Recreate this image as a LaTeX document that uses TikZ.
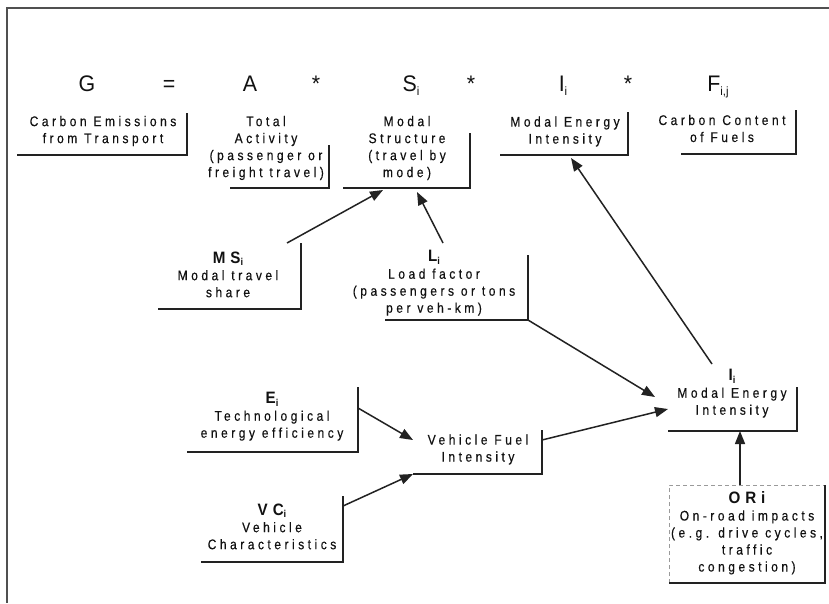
\documentclass[tikz,border=0pt]{standalone}
\usepackage{fontspec}
\setmainfont{Liberation Sans}
\newfontfamily\lblfont[LetterSpace=25,FakeBold=0.3,FakeStretch=0.86]{Liberation Sans}
\newfontfamily\lblbfont[LetterSpace=30,FakeStretch=0.92]{Liberation Sans Bold}
\newfontfamily\eqfont[FakeStretch=0.95]{Liberation Sans}
\usetikzlibrary{arrows.meta}
\definecolor{txt}{HTML}{111111}
\definecolor{lin}{HTML}{222222}
\definecolor{framecol}{HTML}{505050}
\definecolor{dashcol}{HTML}{9A9A9A}
\newcommand\bl[2]{{\lblbfont\fontsize{16.5}{18}\selectfont #1\raisebox{-2.5pt}{\fontsize{10}{10}\selectfont #2}}}
\newcommand\esub[1]{\raisebox{-4pt}{\fontsize{12}{12}\selectfont #1}}
\newcommand\lbox[5]{\node[boxn, minimum width=#4pt, minimum height=#5pt] (#1) at (#2,#3) {};\draw[lsh] (#1.north east) |- (#1.south west);}
\tikzset{
  lbl/.style={align=center, inner sep=0pt, text=txt, font=\lblfont\fontsize{14}{17}\selectfont},
  boxn/.style={inner sep=0pt, outer sep=0pt, anchor=south east},
  lsh/.style={draw=lin, line width=1.5pt},
  conn/.style={draw=lin, line width=1.5pt, -{Triangle[length=13pt,width=10pt]}},
  eq/.style={inner sep=0pt, anchor=base, text=txt, font=\eqfont\fontsize{22.5}{24}\selectfont},
  framel/.style={draw=framecol, line width=2pt},
}
\begin{document}
\begin{tikzpicture}[x=1pt,y=-1pt]
\useasboundingbox (0,0) rectangle (829,603);
\fill[white] (0,0) rectangle (829,603);
\draw[framel] (829,8) -- (7,8) -- (7,603);

% equation row
\node[eq] (g) at (87,91) {G};
\node[eq] (eqs) at (169,91) {=};
\node[eq] (a) at (250,91) {A};
\node[eq] (st1) at (316,91) {*};
\node[eq] (s) at (411,91) {S\esub{i}};
\node[eq] (st2) at (471,91) {*};
\node[eq] (i) at (563,91) {I\esub{i}};
\node[eq] (st3) at (628,91) {*};
\node[eq] (f) at (718,91) {F\esub{i,j}};

% top boxes
\node[lbl] (ce) at (103,131) {Carbon Emissions\\from Transport};
\lbox{ceb}{187}{155}{170}{42}
\node[lbl] (ta) at (266,148) {Total\\Activity\\(passenger or\\freight travel)};
\lbox{tab}{329}{188}{99}{43}
\node[lbl] (ms) at (407,148) {Modal\\Structure\\(travel by\\mode)};
\lbox{msb}{470}{188}{127}{55}
\node[lbl] (me) at (565,131.5) {Modal Energy\\Intensity};
\lbox{meb}{628}{155}{128}{43}
\node[lbl] (cc) at (722,128.5) {Carbon Content\\of Fuels};
\lbox{ccb}{796}{154}{115}{44}

% middle boxes
\node[lbl] (msi) at (228,274.5) {\bl{MS}{i}\\Modal travel\\share};
\lbox{msib}{301}{309}{143}{66}
\node[lbl] (li) at (434,283) {\bl{L}{i}\\Load factor\\(passengers or tons\\per veh-km)};
\lbox{lib}{528}{320}{143}{65}
\node[lbl] (ii) at (732,393.5) {\bl{I}{i}\\Modal Energy\\Intensity};
\lbox{iib}{797}{431}{129}{44}
\node[lbl] (ei) at (272,416.5) {\bl{E}{i}\\Technological\\energy efficiency};
\lbox{eib}{358}{452}{171}{65}
\node[lbl] (vf) at (478,449.5) {Vehicle Fuel\\Intensity};
\lbox{vfb}{542}{474}{129}{44}
\node[lbl] (vc) at (272,526.5) {\bl{VC}{i}\\Vehicle\\Characteristics};
\lbox{vcb}{343}{562}{142}{66}

% dashed box
\node[boxn, minimum width=156pt, minimum height=98pt] (orb) at (825,583) {};
\draw[dashcol, line width=1pt, dash pattern=on 4pt off 3pt] (orb.south west) rectangle (orb.north east);
\draw[lsh] (orb.north east) |- (orb.south west);
\node[lbl] (ori) at (747,533) {{\lblbfont\fontsize{16.5}{18}\selectfont ORi}\\On-road impacts\\(e.g. drive cycles,\\traffic\\congestion)};

% connectors
\coordinate (li-top) at (443,243);
\coordinate (ii-top) at (712,364);
\draw[conn] ([xshift=-14pt]msib.north east) -- ([xshift=40pt,yshift=-2pt]msb.south west);
\draw[conn] (li-top) -- ([xshift=74pt,yshift=-4pt]msb.south west);
\draw[conn] (lib.south east) -- ([xshift=-13pt,yshift=12pt]iib.west);
\draw[conn] ([yshift=-10pt]vfb.north east) -- (iib.west);
\draw[conn] (ii-top) -- ([xshift=71pt,yshift=-3pt]meb.south west);
\draw[conn] ([xshift=-7pt]orb.north) -- ([xshift=72pt]iib.south west);
\draw[conn] ([yshift=-21pt]eib.north east) -- ([yshift=-10pt]vfb.north west);
\draw[conn] ([yshift=-10pt]vcb.north east) -- (vfb.south west);
\end{tikzpicture}
\end{document}
